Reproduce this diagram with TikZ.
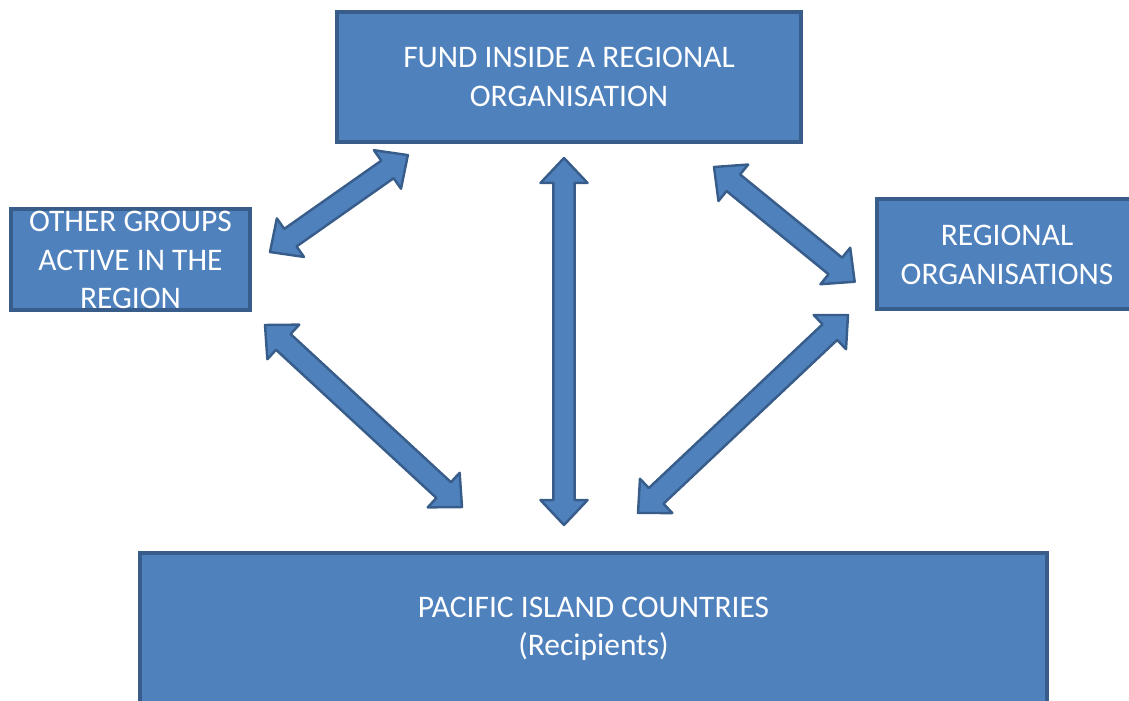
\documentclass[tikz,border=0pt]{standalone}
\usepackage{fontspec}
\setmainfont{Carlito}
\usepackage{tikz}
\usetikzlibrary{calc, positioning}
\definecolor{boxfill}{HTML}{4F81BD}
\definecolor{boxline}{HTML}{385D8A}
\tikzset{
  box/.style={draw=boxline, fill=boxfill, line width=2.2pt, inner sep=0pt},
  boxtext/.style={text=white, align=center, inner sep=0pt, font=\fontsize{17.9}{21.9}\selectfont},
  arrowbody/.style={draw=boxline, fill=boxfill, line width=1.4pt, line join=round}
}
% block arrow with two heads
\newcommand{\arrhead}{14.2pt}
\newcommand{\arrhalf}{13.4pt}
\newcommand{\arrshaft}{6.1pt}
\newcommand{\twoway}[2]{%
  \path[arrowbody] let \p1=($(#2)-(#1)$), \n1={atan2(\y1,\x1)}, \n2={veclen(\x1,\y1)} in
    [shift={(#1)}, rotate=\n1]
    (0pt,0pt) -- (\arrhead,\arrhalf) -- (\arrhead,\arrshaft) -- (\n2-\arrhead,\arrshaft)
    -- (\n2-\arrhead,\arrhalf) -- (\n2,0pt) -- (\n2-\arrhead,-\arrhalf)
    -- (\n2-\arrhead,-\arrshaft) -- (\arrhead,-\arrshaft) -- (\arrhead,-\arrhalf) -- cycle;}

\begin{document}
\begin{tikzpicture}[x=0.02cm, y=-0.02cm]
        \useasboundingbox (0,0) rectangle (1129,700);
        \clip (0,0) rectangle (1129,700);
        % Boxes
        \node[box, minimum width=9.28cm, minimum height=2.6cm] (fund) at (569,77) {};
        \node[box, minimum width=4.78cm, minimum height=2.02cm] (other) at (130.5,259.5) {};
        \node[box, minimum width=5.2cm, minimum height=2.2cm] (regional) at (1007,254) {};
        \node[box, minimum width=18.14cm, minimum height=3.04cm] (pacific) at (593.5,629) {};
        % Labels in the boxes
        \node[boxtext] (fundtext) at (fund.center) {FUND INSIDE A REGIONAL\\ORGANISATION};
        \node[boxtext] (othertext) at (130.5,260) {OTHER GROUPS\\ACTIVE IN THE\\REGION};
        \node[boxtext] (regionaltext) at (1007,255) {REGIONAL\\ORGANISATIONS};
        \node[boxtext] (pacifictext) at (pacific.center) {PACIFIC ISLAND COUNTRIES\\(Recipients)};
        % Arrow ends
        \coordinate (otherup) at (270,252);
        \coordinate (fundleft) at (408,155);
        \coordinate (fundmid) at (564,158);
        \coordinate (pacificmid) at (564,525);
        \coordinate (fundright) at (714,167);
        \coordinate (regionalup) at (855,282);
        \coordinate (regionaldown) at (848,315);
        \coordinate (pacificright) at (638,513);
        \coordinate (otherdown) at (265,325);
        \coordinate (pacificleft) at (462,507);
        % Arrows
        \twoway{otherup}{fundleft}
        \twoway{fundmid}{pacificmid}
        \twoway{fundright}{regionalup}
        \twoway{regionaldown}{pacificright}
        \twoway{otherdown}{pacificleft}
\end{tikzpicture}
\end{document}
